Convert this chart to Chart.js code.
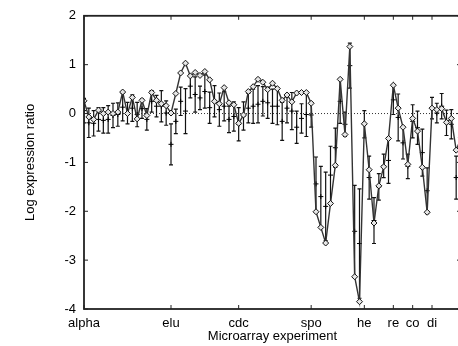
<!DOCTYPE html>
<html>
<head>
<meta charset="utf-8">
<script src="https://cdn.jsdelivr.net/npm/chart.js@4/dist/chart.umd.min.js"></script>
<style>
  html, body { margin: 0; padding: 0; background: #fff; overflow: hidden; }
  #wrap { width: 466px; height: 346px; }
</style>
</head>
<body>
<div id="wrap"><canvas id="chart" width="466" height="346"></canvas></div>
<script>
// Experiment groups and where each one starts on the x axis (sample index)
const categories = ['alpha', 'elu', 'cdc', 'spo', 'he', 're', 'co', 'di'];
const categoryStarts = [0, 18, 32, 47, 58, 64, 68, 72];
const yTicks = [2, 1, 0, -1, -2, -3, -4];

// Single gene profile (diamonds)
const geneValues = [
  0.26, -0.07, -0.12, 0.07, 0.00, 0.03, 0.00, 0.03, 0.44, 0.00,
  0.33, -0.11, 0.27, -0.04, 0.43, 0.27, 0.20, 0.16, 0.01, 0.41,
  0.83, 1.03, 0.77, 0.84, 0.78, 0.86, 0.69, 0.25, 0.20, 0.53,
  0.22, 0.18, -0.20, -0.03, 0.45, 0.55, 0.70, 0.64, 0.49, 0.62,
  0.51, 0.27, 0.38, 0.24, 0.42, 0.43, 0.43, 0.21, -2.01, -2.33,
  -2.65, -1.84, -1.06, 0.70, -0.43, 1.37, -3.34, -3.85, -0.21, -1.15,
  -2.24, -1.48, -1.09, -0.51, 0.58, 0.11, -0.28, -1.04, -0.10, -0.36,
  -1.10, -2.02, 0.11, 0.08, 0.10, -0.18, -0.10, -0.75, -0.50
];

// Cluster mean (+) and its error (half length of the bar)
const meanValues = [
  0.06, -0.19, -0.20, -0.12, -0.14, -0.12, -0.04, -0.02, 0.13, 0.01,
  0.11, -0.02, 0.10, -0.12, 0.25, 0.15, 0.15, 0.01, -0.63, -0.16,
  0.25, 0.05, 0.56, 0.39, 0.32, 0.45, 0.12, 0.25, 0.08, 0.15,
  -0.12, -0.06, -0.22, -0.05, 0.11, 0.15, 0.19, 0.25, 0.22, 0.15,
  0.15, -0.16, 0.11, 0.05, -0.28, -0.10, -0.02, -0.03, -1.44, -1.70,
  -1.90, -1.26, -0.70, 0.25, -0.22, 0.98, -2.41, -2.66, -0.22, -1.31,
  -2.19, -1.50, -1.07, -0.96, 0.28, -0.08, -0.60, -1.08, -0.16, -0.29,
  -0.80, -1.58, 0.11, 0.01, 0.15, -0.19, -0.22, -1.31, -0.60
];
const errValues = [
  0.25, 0.30, 0.26, 0.24, 0.26, 0.28, 0.25, 0.24, 0.28, 0.22,
  0.27, 0.25, 0.20, 0.22, 0.22, 0.22, 0.32, 0.25, 0.42, 0.25,
  0.29, 0.46, 0.24, 0.36, 0.24, 0.34, 0.32, 0.32, 0.34, 0.30,
  0.27, 0.30, 0.34, 0.29, 0.30, 0.35, 0.38, 0.30, 0.32, 0.35,
  0.38, 0.39, 0.30, 0.38, 0.33, 0.30, 0.45, 0.25, 0.55, 0.62,
  0.70, 0.59, 0.40, 0.45, 0.25, 0.46, 0.94, 1.12, 0.28, 0.44,
  0.47, 0.27, 0.24, 0.47, 0.30, 0.48, 0.33, 0.25, 0.34, 0.34,
  0.48, 0.47, 0.22, 0.20, 0.26, 0.26, 0.30, 0.44, 0.40
];

const xMax = geneValues.length - 1;
const FONT = 'Liberation Sans, Arial, Helvetica, sans-serif';

// Vertical error bars with small caps, drawn under the lines
const errorBars = {
  id: 'errorBars',
  beforeDatasetsDraw(chart) {
    const { ctx, chartArea: a, scales: { x, y } } = chart;
    ctx.save();
    ctx.beginPath();
    ctx.rect(a.left, a.top, a.right - a.left, a.bottom - a.top);
    ctx.clip();
    ctx.strokeStyle = '#111';
    ctx.lineWidth = 1.2;
    meanValues.forEach((m, i) => {
      const px = x.getPixelForValue(i);
      const top = y.getPixelForValue(m + errValues[i]);
      const bot = y.getPixelForValue(m - errValues[i]);
      ctx.beginPath();
      ctx.moveTo(px, top); ctx.lineTo(px, bot);
      ctx.moveTo(px - 2, top); ctx.lineTo(px + 2, top);
      ctx.moveTo(px - 2, bot); ctx.lineTo(px + 2, bot);
      ctx.stroke();
    });
    ctx.restore();
  }
};

// Box around the plot with inward tick marks (gnuplot look)
const frame = {
  id: 'frame',
  afterDraw(chart) {
    const { ctx, chartArea: a, scales: { x, y } } = chart;
    ctx.save();
    ctx.strokeStyle = '#222';
    ctx.lineWidth = 1.8;
    ctx.strokeRect(a.left, a.top, a.right - a.left, a.bottom - a.top);
    ctx.lineWidth = 1;
    ctx.beginPath();
    yTicks.forEach(v => {
      const py = y.getPixelForValue(v);
      ctx.moveTo(a.left, py); ctx.lineTo(a.left + 4, py);
      ctx.moveTo(a.right, py); ctx.lineTo(a.right - 4, py);
    });
    categoryStarts.forEach(v => {
      const px = x.getPixelForValue(v);
      ctx.moveTo(px, a.bottom); ctx.lineTo(px, a.bottom - 4);
      ctx.moveTo(px, a.top); ctx.lineTo(px, a.top + 4);
    });
    ctx.stroke();
    ctx.restore();
  }
};

new Chart(document.getElementById('chart'), {
  type: 'line',
  data: {
    datasets: [
      {
        // gene profile
        data: geneValues.map((v, i) => ({ x: i, y: v })),
        borderColor: '#333',
        borderWidth: 1.4,
        pointStyle: 'rectRot',
        pointRadius: 3,
        pointBorderColor: '#111',
        pointBackgroundColor: '#e6e6e6',
        pointBorderWidth: 1,
        tension: 0
      },
      {
        // cluster mean
        data: meanValues.map((v, i) => ({ x: i, y: v })),
        showLine: false,
        pointStyle: 'cross',
        pointRadius: 2.5,
        pointBorderColor: '#000',
        pointBorderWidth: 1
      },
      {
        // zero reference
        data: [{ x: 0, y: 0 }, { x: xMax, y: 0 }],
        borderColor: '#333',
        borderWidth: 1,
        borderDash: [1, 2],
        pointRadius: 0
      }
    ]
  },
  options: {
    responsive: false,
    animation: false,
    events: [],
    layout: { padding: { top: 14, right: 2, bottom: 0, left: 0 } },
    plugins: { legend: { display: false }, tooltip: { enabled: false } },
    scales: {
      x: {
        type: 'linear',
        min: 0,
        max: xMax,
        grid: { display: false, drawTicks: false },
        border: { display: false },
        afterBuildTicks: scale => { scale.ticks = categoryStarts.map(v => ({ value: v })); },
        afterFit: scale => { scale.height = 37; },
        ticks: {
          autoSkip: false,
          maxRotation: 0,
          padding: 7,
          color: '#000',
          font: { family: FONT, size: 13 },
          callback: v => categories[categoryStarts.indexOf(v)]
        },
        title: {
          display: true,
          text: 'Microarray experiment',
          color: '#000',
          font: { family: FONT, size: 13 },
          padding: { top: 0, bottom: 2 }
        }
      },
      y: {
        min: -4,
        max: 2,
        grid: { display: false, drawTicks: false },
        border: { display: false },
        afterBuildTicks: scale => { scale.ticks = yTicks.map(v => ({ value: v })); },
        afterFit: scale => { scale.width = 84; },
        ticks: {
          padding: 8,
          color: '#000',
          font: { family: FONT, size: 13 }
        },
        title: {
          display: true,
          text: 'Log expression ratio',
          color: '#000',
          font: { family: FONT, size: 13 },
          padding: { top: 23, bottom: 0 }
        }
      }
    }
  },
  plugins: [errorBars, frame]
});
</script>
</body>
</html>
